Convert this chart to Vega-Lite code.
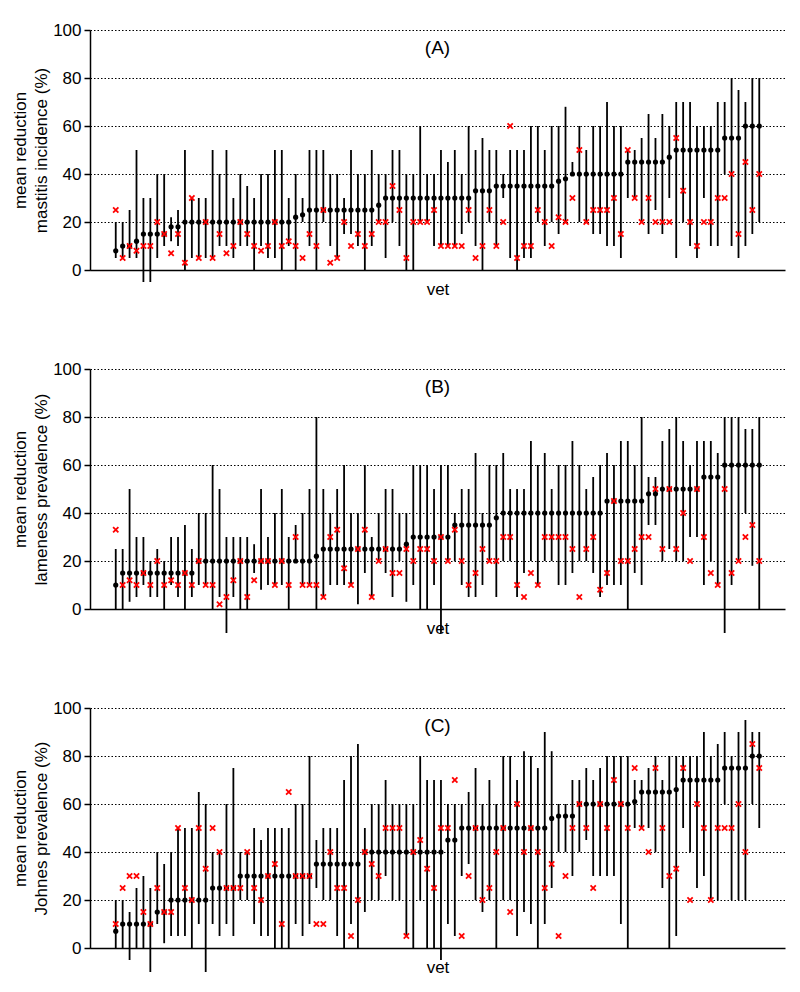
{
"$schema": "https://vega.github.io/schema/vega-lite/v6.json",
"background": "white",
"padding": {"left": 11, "top": 21, "right": 5, "bottom": 5},
"autosize": {"type": "pad"},
"spacing": 99,
"bounds": "flush",
"config": {
  "view": {"stroke": null},
  "font": "Liberation Sans",
  "axis": {"domainColor": "#000", "domainWidth": 1.5, "tickColor": "#000", "tickWidth": 1.5, "tickSize": 6,
    "labelFont": "Liberation Sans", "labelFontSize": 17, "labelColor": "#000", "labelPadding": 3,
    "titleFont": "Liberation Sans", "titleFontSize": 17, "titleFontWeight": "normal", "titleColor": "#000",
    "gridColor": "#000", "gridDash": [1.5, 2], "gridWidth": 1.2, "gridOpacity": 1},
  "axisY": {"titlePadding": 2, "titleLineHeight": 21},
  "axisX": {"titlePadding": 11}
},
"datasets": {
"A": [
{"vet":1,"mean":8,"lo":5,"hi":20,"est":25},{"vet":2,"mean":10,"lo":5,"hi":20,"est":5},{"vet":3,"mean":10,"lo":5,"hi":25,"est":10},{"vet":4,"mean":12,"lo":5,"hi":50,"est":8},{"vet":5,"mean":15,"lo":-5,"hi":30,"est":10},{"vet":6,"mean":15,"lo":-5,"hi":30,"est":10},{"vet":7,"mean":15,"lo":5,"hi":40,"est":20},{"vet":8,"mean":15,"lo":10,"hi":40,"est":15},{"vet":9,"mean":18,"lo":12,"hi":22,"est":7},{"vet":10,"mean":18,"lo":10,"hi":25,"est":15},
{"vet":11,"mean":20,"lo":0,"hi":50,"est":3},{"vet":12,"mean":20,"lo":5,"hi":30,"est":30},{"vet":13,"mean":20,"lo":5,"hi":30,"est":5},{"vet":14,"mean":20,"lo":5,"hi":30,"est":20},{"vet":15,"mean":20,"lo":5,"hi":50,"est":5},{"vet":16,"mean":20,"lo":10,"hi":40,"est":15},{"vet":17,"mean":20,"lo":10,"hi":50,"est":7},{"vet":18,"mean":20,"lo":5,"hi":30,"est":10},{"vet":19,"mean":20,"lo":10,"hi":40,"est":20},{"vet":20,"mean":20,"lo":10,"hi":35,"est":15},
{"vet":21,"mean":20,"lo":0,"hi":30,"est":10},{"vet":22,"mean":20,"lo":10,"hi":40,"est":8},{"vet":23,"mean":20,"lo":5,"hi":40,"est":10},{"vet":24,"mean":20,"lo":5,"hi":50,"est":20},{"vet":25,"mean":20,"lo":0,"hi":50,"est":10},{"vet":26,"mean":20,"lo":10,"hi":30,"est":12},{"vet":27,"mean":22,"lo":0,"hi":40,"est":10},{"vet":28,"mean":23,"lo":20,"hi":30,"est":5},{"vet":29,"mean":25,"lo":10,"hi":50,"est":15},{"vet":30,"mean":25,"lo":0,"hi":50,"est":10},
{"vet":31,"mean":25,"lo":20,"hi":50,"est":25},{"vet":32,"mean":25,"lo":10,"hi":40,"est":3},{"vet":33,"mean":25,"lo":5,"hi":40,"est":5},{"vet":34,"mean":25,"lo":15,"hi":30,"est":20},{"vet":35,"mean":25,"lo":15,"hi":50,"est":10},{"vet":36,"mean":25,"lo":10,"hi":40,"est":15},{"vet":37,"mean":25,"lo":0,"hi":40,"est":10},{"vet":38,"mean":25,"lo":10,"hi":50,"est":15},{"vet":39,"mean":27,"lo":20,"hi":40,"est":20},{"vet":40,"mean":30,"lo":5,"hi":40,"est":20},
{"vet":41,"mean":30,"lo":20,"hi":50,"est":35},{"vet":42,"mean":30,"lo":10,"hi":50,"est":25},{"vet":43,"mean":30,"lo":0,"hi":40,"est":5},{"vet":44,"mean":30,"lo":0,"hi":40,"est":20},{"vet":45,"mean":30,"lo":20,"hi":60,"est":20},{"vet":46,"mean":30,"lo":20,"hi":40,"est":20},{"vet":47,"mean":30,"lo":10,"hi":40,"est":25},{"vet":48,"mean":30,"lo":10,"hi":50,"est":10},{"vet":49,"mean":30,"lo":10,"hi":45,"est":10},{"vet":50,"mean":30,"lo":10,"hi":50,"est":10},
{"vet":51,"mean":30,"lo":15,"hi":40,"est":10},{"vet":52,"mean":30,"lo":20,"hi":60,"est":25},{"vet":53,"mean":33,"lo":10,"hi":50,"est":5},{"vet":54,"mean":33,"lo":0,"hi":55,"est":10},{"vet":55,"mean":33,"lo":20,"hi":50,"est":25},{"vet":56,"mean":35,"lo":10,"hi":50,"est":10},{"vet":57,"mean":35,"lo":30,"hi":40,"est":20},{"vet":58,"mean":35,"lo":5,"hi":50,"est":60},{"vet":59,"mean":35,"lo":0,"hi":50,"est":5},{"vet":60,"mean":35,"lo":5,"hi":50,"est":10},
{"vet":61,"mean":35,"lo":5,"hi":60,"est":10},{"vet":62,"mean":35,"lo":20,"hi":60,"est":25},{"vet":63,"mean":35,"lo":10,"hi":50,"est":20},{"vet":64,"mean":35,"lo":20,"hi":60,"est":10},{"vet":65,"mean":37,"lo":15,"hi":60,"est":22},{"vet":66,"mean":38,"lo":20,"hi":68,"est":20},{"vet":67,"mean":40,"lo":40,"hi":45,"est":30},{"vet":68,"mean":40,"lo":20,"hi":60,"est":50},{"vet":69,"mean":40,"lo":20,"hi":50,"est":20},{"vet":70,"mean":40,"lo":15,"hi":60,"est":25},
{"vet":71,"mean":40,"lo":15,"hi":60,"est":25},{"vet":72,"mean":40,"lo":10,"hi":70,"est":25},{"vet":73,"mean":40,"lo":10,"hi":60,"est":30},{"vet":74,"mean":40,"lo":5,"hi":60,"est":15},{"vet":75,"mean":45,"lo":30,"hi":50,"est":50},{"vet":76,"mean":45,"lo":30,"hi":50,"est":30},{"vet":77,"mean":45,"lo":20,"hi":55,"est":20},{"vet":78,"mean":45,"lo":15,"hi":65,"est":30},{"vet":79,"mean":45,"lo":25,"hi":55,"est":20},{"vet":80,"mean":45,"lo":15,"hi":65,"est":20},
{"vet":81,"mean":47,"lo":30,"hi":60,"est":20},{"vet":82,"mean":50,"lo":5,"hi":70,"est":55},{"vet":83,"mean":50,"lo":20,"hi":70,"est":33},{"vet":84,"mean":50,"lo":10,"hi":70,"est":20},{"vet":85,"mean":50,"lo":5,"hi":60,"est":10},{"vet":86,"mean":50,"lo":30,"hi":60,"est":20},{"vet":87,"mean":50,"lo":10,"hi":60,"est":20},{"vet":88,"mean":50,"lo":10,"hi":70,"est":30},{"vet":89,"mean":55,"lo":40,"hi":70,"est":30},{"vet":90,"mean":55,"lo":10,"hi":80,"est":40},
{"vet":91,"mean":55,"lo":5,"hi":75,"est":15},{"vet":92,"mean":60,"lo":10,"hi":70,"est":45},{"vet":93,"mean":60,"lo":15,"hi":80,"est":25},{"vet":94,"mean":60,"lo":20,"hi":80,"est":40}
],
"B": [
{"vet":1,"mean":10,"lo":0,"hi":25,"est":33},{"vet":2,"mean":15,"lo":0,"hi":25,"est":10},{"vet":3,"mean":15,"lo":3,"hi":50,"est":12},{"vet":4,"mean":15,"lo":5,"hi":30,"est":10},{"vet":5,"mean":15,"lo":10,"hi":30,"est":15},{"vet":6,"mean":15,"lo":5,"hi":20,"est":10},{"vet":7,"mean":15,"lo":5,"hi":25,"est":20},{"vet":8,"mean":15,"lo":0,"hi":20,"est":10},{"vet":9,"mean":15,"lo":10,"hi":30,"est":12},{"vet":10,"mean":15,"lo":5,"hi":30,"est":10},
{"vet":11,"mean":15,"lo":0,"hi":35,"est":15},{"vet":12,"mean":15,"lo":5,"hi":25,"est":10},{"vet":13,"mean":20,"lo":10,"hi":40,"est":20},{"vet":14,"mean":20,"lo":10,"hi":40,"est":10},{"vet":15,"mean":20,"lo":0,"hi":60,"est":10},{"vet":16,"mean":20,"lo":5,"hi":50,"est":2},{"vet":17,"mean":20,"lo":-10,"hi":30,"est":5},{"vet":18,"mean":20,"lo":5,"hi":30,"est":12},{"vet":19,"mean":20,"lo":0,"hi":30,"est":20},{"vet":20,"mean":20,"lo":0,"hi":30,"est":5},
{"vet":21,"mean":20,"lo":15,"hi":27,"est":12},{"vet":22,"mean":20,"lo":8,"hi":50,"est":20},{"vet":23,"mean":20,"lo":10,"hi":30,"est":20},{"vet":24,"mean":20,"lo":10,"hi":40,"est":10},{"vet":25,"mean":20,"lo":10,"hi":50,"est":20},{"vet":26,"mean":20,"lo":0,"hi":30,"est":10},{"vet":27,"mean":20,"lo":20,"hi":35,"est":30},{"vet":28,"mean":20,"lo":10,"hi":40,"est":10},{"vet":29,"mean":20,"lo":10,"hi":50,"est":10},{"vet":30,"mean":22,"lo":0,"hi":80,"est":10},
{"vet":31,"mean":25,"lo":5,"hi":50,"est":5},{"vet":32,"mean":25,"lo":10,"hi":40,"est":30},{"vet":33,"mean":25,"lo":10,"hi":50,"est":33},{"vet":34,"mean":25,"lo":10,"hi":60,"est":17},{"vet":35,"mean":25,"lo":10,"hi":40,"est":10},{"vet":36,"mean":25,"lo":2,"hi":40,"est":25},{"vet":37,"mean":25,"lo":15,"hi":60,"est":33},{"vet":38,"mean":25,"lo":5,"hi":30,"est":5},{"vet":39,"mean":25,"lo":20,"hi":40,"est":20},{"vet":40,"mean":25,"lo":15,"hi":50,"est":25},
{"vet":41,"mean":25,"lo":5,"hi":50,"est":15},{"vet":42,"mean":25,"lo":20,"hi":40,"est":15},{"vet":43,"mean":27,"lo":3,"hi":40,"est":25},{"vet":44,"mean":30,"lo":10,"hi":60,"est":20},{"vet":45,"mean":30,"lo":0,"hi":60,"est":25},{"vet":46,"mean":30,"lo":0,"hi":60,"est":25},{"vet":47,"mean":30,"lo":10,"hi":50,"est":20},{"vet":48,"mean":30,"lo":-10,"hi":60,"est":30},{"vet":49,"mean":30,"lo":20,"hi":60,"est":20},{"vet":50,"mean":35,"lo":20,"hi":40,"est":33},
{"vet":51,"mean":35,"lo":10,"hi":50,"est":20},{"vet":52,"mean":35,"lo":5,"hi":50,"est":10},{"vet":53,"mean":35,"lo":5,"hi":65,"est":15},{"vet":54,"mean":35,"lo":10,"hi":40,"est":25},{"vet":55,"mean":35,"lo":20,"hi":60,"est":20},{"vet":56,"mean":38,"lo":5,"hi":60,"est":20},{"vet":57,"mean":40,"lo":20,"hi":65,"est":30},{"vet":58,"mean":40,"lo":20,"hi":50,"est":30},{"vet":59,"mean":40,"lo":5,"hi":50,"est":10},{"vet":60,"mean":40,"lo":15,"hi":50,"est":5},
{"vet":61,"mean":40,"lo":20,"hi":70,"est":15},{"vet":62,"mean":40,"lo":10,"hi":60,"est":10},{"vet":63,"mean":40,"lo":20,"hi":65,"est":30},{"vet":64,"mean":40,"lo":20,"hi":50,"est":30},{"vet":65,"mean":40,"lo":10,"hi":60,"est":30},{"vet":66,"mean":40,"lo":10,"hi":60,"est":30},{"vet":67,"mean":40,"lo":15,"hi":70,"est":25},{"vet":68,"mean":40,"lo":20,"hi":60,"est":5},{"vet":69,"mean":40,"lo":20,"hi":50,"est":25},{"vet":70,"mean":40,"lo":15,"hi":55,"est":30},
{"vet":71,"mean":40,"lo":5,"hi":60,"est":8},{"vet":72,"mean":45,"lo":10,"hi":65,"est":15},{"vet":73,"mean":45,"lo":10,"hi":60,"est":45},{"vet":74,"mean":45,"lo":10,"hi":70,"est":20},{"vet":75,"mean":45,"lo":0,"hi":70,"est":20},{"vet":76,"mean":45,"lo":15,"hi":60,"est":25},{"vet":77,"mean":45,"lo":10,"hi":80,"est":30},{"vet":78,"mean":48,"lo":35,"hi":55,"est":30},{"vet":79,"mean":48,"lo":35,"hi":55,"est":50},{"vet":80,"mean":50,"lo":20,"hi":70,"est":25},
{"vet":81,"mean":50,"lo":25,"hi":75,"est":50},{"vet":82,"mean":50,"lo":20,"hi":80,"est":25},{"vet":83,"mean":50,"lo":20,"hi":70,"est":40},{"vet":84,"mean":50,"lo":30,"hi":60,"est":20},{"vet":85,"mean":50,"lo":30,"hi":70,"est":50},{"vet":86,"mean":55,"lo":10,"hi":70,"est":30},{"vet":87,"mean":55,"lo":20,"hi":70,"est":15},{"vet":88,"mean":55,"lo":10,"hi":65,"est":10},{"vet":89,"mean":60,"lo":-10,"hi":80,"est":50},{"vet":90,"mean":60,"lo":10,"hi":80,"est":15},
{"vet":91,"mean":60,"lo":20,"hi":80,"est":20},{"vet":92,"mean":60,"lo":40,"hi":75,"est":30},{"vet":93,"mean":60,"lo":18,"hi":75,"est":35},{"vet":94,"mean":60,"lo":0,"hi":80,"est":20}
],
"C": [
{"vet":1,"mean":7,"lo":0,"hi":20,"est":10},{"vet":2,"mean":10,"lo":0,"hi":20,"est":25},{"vet":3,"mean":10,"lo":-5,"hi":15,"est":30},{"vet":4,"mean":10,"lo":0,"hi":25,"est":30},{"vet":5,"mean":10,"lo":0,"hi":30,"est":15},{"vet":6,"mean":10,"lo":-10,"hi":25,"est":10},{"vet":7,"mean":15,"lo":10,"hi":40,"est":25},{"vet":8,"mean":15,"lo":2,"hi":35,"est":15},{"vet":9,"mean":20,"lo":5,"hi":40,"est":15},{"vet":10,"mean":20,"lo":5,"hi":50,"est":50},
{"vet":11,"mean":20,"lo":5,"hi":50,"est":25},{"vet":12,"mean":20,"lo":0,"hi":50,"est":20},{"vet":13,"mean":20,"lo":10,"hi":65,"est":50},{"vet":14,"mean":20,"lo":-10,"hi":60,"est":33},{"vet":15,"mean":25,"lo":10,"hi":40,"est":50},{"vet":16,"mean":25,"lo":5,"hi":40,"est":40},{"vet":17,"mean":25,"lo":10,"hi":60,"est":25},{"vet":18,"mean":25,"lo":5,"hi":75,"est":25},{"vet":19,"mean":30,"lo":20,"hi":40,"est":25},{"vet":20,"mean":30,"lo":20,"hi":40,"est":40},
{"vet":21,"mean":30,"lo":10,"hi":50,"est":25},{"vet":22,"mean":30,"lo":5,"hi":45,"est":20},{"vet":23,"mean":30,"lo":5,"hi":50,"est":30},{"vet":24,"mean":30,"lo":0,"hi":50,"est":35},{"vet":25,"mean":30,"lo":0,"hi":50,"est":10},{"vet":26,"mean":30,"lo":0,"hi":50,"est":65},{"vet":27,"mean":30,"lo":10,"hi":60,"est":30},{"vet":28,"mean":30,"lo":5,"hi":60,"est":30},{"vet":29,"mean":30,"lo":10,"hi":80,"est":30},{"vet":30,"mean":35,"lo":25,"hi":45,"est":10},
{"vet":31,"mean":35,"lo":20,"hi":50,"est":10},{"vet":32,"mean":35,"lo":20,"hi":50,"est":40},{"vet":33,"mean":35,"lo":5,"hi":50,"est":25},{"vet":34,"mean":35,"lo":0,"hi":70,"est":25},{"vet":35,"mean":35,"lo":10,"hi":80,"est":5},{"vet":36,"mean":35,"lo":0,"hi":85,"est":20},{"vet":37,"mean":40,"lo":15,"hi":50,"est":40},{"vet":38,"mean":40,"lo":20,"hi":60,"est":35},{"vet":39,"mean":40,"lo":20,"hi":60,"est":30},{"vet":40,"mean":40,"lo":30,"hi":70,"est":50},
{"vet":41,"mean":40,"lo":20,"hi":60,"est":50},{"vet":42,"mean":40,"lo":20,"hi":60,"est":50},{"vet":43,"mean":40,"lo":5,"hi":60,"est":5},{"vet":44,"mean":40,"lo":0,"hi":60,"est":40},{"vet":45,"mean":40,"lo":20,"hi":80,"est":45},{"vet":46,"mean":40,"lo":0,"hi":70,"est":33},{"vet":47,"mean":40,"lo":0,"hi":70,"est":25},{"vet":48,"mean":40,"lo":-5,"hi":70,"est":50},{"vet":49,"mean":45,"lo":10,"hi":60,"est":50},{"vet":50,"mean":45,"lo":5,"hi":60,"est":70},
{"vet":51,"mean":50,"lo":30,"hi":60,"est":5},{"vet":52,"mean":50,"lo":35,"hi":65,"est":30},{"vet":53,"mean":50,"lo":20,"hi":75,"est":50},{"vet":54,"mean":50,"lo":15,"hi":60,"est":20},{"vet":55,"mean":50,"lo":20,"hi":70,"est":25},{"vet":56,"mean":50,"lo":0,"hi":60,"est":40},{"vet":57,"mean":50,"lo":20,"hi":80,"est":50},{"vet":58,"mean":50,"lo":20,"hi":80,"est":15},{"vet":59,"mean":50,"lo":5,"hi":70,"est":60},{"vet":60,"mean":50,"lo":15,"hi":82,"est":40},
{"vet":61,"mean":50,"lo":10,"hi":80,"est":50},{"vet":62,"mean":50,"lo":0,"hi":75,"est":40},{"vet":63,"mean":50,"lo":10,"hi":90,"est":25},{"vet":64,"mean":54,"lo":25,"hi":82,"est":35},{"vet":65,"mean":55,"lo":40,"hi":60,"est":5},{"vet":66,"mean":55,"lo":40,"hi":60,"est":30},{"vet":67,"mean":55,"lo":30,"hi":70,"est":50},{"vet":68,"mean":60,"lo":40,"hi":70,"est":60},{"vet":69,"mean":60,"lo":45,"hi":75,"est":50},{"vet":70,"mean":60,"lo":30,"hi":70,"est":25},
{"vet":71,"mean":60,"lo":30,"hi":75,"est":60},{"vet":72,"mean":60,"lo":30,"hi":80,"est":50},{"vet":73,"mean":60,"lo":30,"hi":80,"est":70},{"vet":74,"mean":60,"lo":10,"hi":80,"est":60},{"vet":75,"mean":60,"lo":0,"hi":80,"est":50},{"vet":76,"mean":61,"lo":50,"hi":70,"est":75},{"vet":77,"mean":65,"lo":50,"hi":70,"est":50},{"vet":78,"mean":65,"lo":50,"hi":75,"est":40},{"vet":79,"mean":65,"lo":40,"hi":80,"est":75},{"vet":80,"mean":65,"lo":25,"hi":70,"est":50},
{"vet":81,"mean":65,"lo":0,"hi":80,"est":30},{"vet":82,"mean":66,"lo":5,"hi":80,"est":33},{"vet":83,"mean":70,"lo":50,"hi":80,"est":75},{"vet":84,"mean":70,"lo":40,"hi":80,"est":20},{"vet":85,"mean":70,"lo":25,"hi":80,"est":60},{"vet":86,"mean":70,"lo":30,"hi":90,"est":50},{"vet":87,"mean":70,"lo":20,"hi":80,"est":20},{"vet":88,"mean":70,"lo":20,"hi":85,"est":50},{"vet":89,"mean":75,"lo":60,"hi":90,"est":50},{"vet":90,"mean":75,"lo":20,"hi":80,"est":50},
{"vet":91,"mean":75,"lo":20,"hi":90,"est":60},{"vet":92,"mean":75,"lo":20,"hi":95,"est":40},{"vet":93,"mean":80,"lo":60,"hi":90,"est":85},{"vet":94,"mean":80,"lo":50,"hi":90,"est":75}
],
"LA": [{"label": "(A)", "px": 47.5, "py": 92.5}],
"LB": [{"label": "(B)", "px": 47.5, "py": 92.5}],
"LC": [{"label": "(C)", "px": 47.5, "py": 92.5}]
},
"vconcat": [
{
 "width": 695, "height": 240,
 "layer": [
  {"data": {"name": "A"},
   "mark": {"type": "rule", "color": "#000", "strokeWidth": 1.8},
   "encoding": {
     "x": {"field": "vet", "type": "quantitative", "scale": {"domain": [-2.72, 97.72], "nice": false, "zero": false}, "axis": {"title": "vet", "labels": false, "ticks": false, "grid": false}},
     "y": {"field": "lo", "type": "quantitative", "scale": {"domain": [0, 100], "nice": false}, "axis": {"values": [0, 20, 40, 60, 80, 100], "grid": true}, "title": ["mean reduction", "mastitis incidence (%)"]}, "y2": {"field": "hi"}}},
  {"data": {"name": "A"},
   "mark": {"type": "point", "shape": "circle", "filled": true, "color": "#000", "size": 27, "opacity": 1},
   "encoding": {"x": {"field": "vet", "type": "quantitative", "title": "vet"}, "y": {"field": "mean", "type": "quantitative", "title": ["mean reduction", "mastitis incidence (%)"]}}},
  {"data": {"name": "A"},
   "mark": {"type": "point", "shape": "M-1,-1L1,1M-1,1L1,-1", "filled": false, "color": "#ff0000", "strokeWidth": 1.8, "size": 28, "opacity": 1},
   "encoding": {"x": {"field": "vet", "type": "quantitative", "title": "vet"}, "y": {"field": "est", "type": "quantitative", "title": ["mean reduction", "mastitis incidence (%)"]}}},
  {"data": {"name": "LA"},
   "mark": {"type": "text", "fontSize": 19, "font": "Liberation Sans", "color": "#000"},
   "encoding": {"text": {"field": "label", "type": "nominal"}, "x": {"field": "px", "type": "quantitative", "title": "vet"}, "y": {"field": "py", "type": "quantitative", "title": ["mean reduction", "mastitis incidence (%)"]}}}
 ]
},
{
 "width": 695, "height": 240,
 "layer": [
  {"data": {"name": "B"},
   "mark": {"type": "rule", "color": "#000", "strokeWidth": 1.8},
   "encoding": {
     "x": {"field": "vet", "type": "quantitative", "scale": {"domain": [-2.72, 97.72], "nice": false, "zero": false}, "axis": {"title": "vet", "labels": false, "ticks": false, "grid": false}},
     "y": {"field": "lo", "type": "quantitative", "scale": {"domain": [0, 100], "nice": false}, "axis": {"values": [0, 20, 40, 60, 80, 100], "grid": true}, "title": ["mean reduction", "lameness prevalence (%)"]}, "y2": {"field": "hi"}}},
  {"data": {"name": "B"},
   "mark": {"type": "point", "shape": "circle", "filled": true, "color": "#000", "size": 27, "opacity": 1},
   "encoding": {"x": {"field": "vet", "type": "quantitative", "title": "vet"}, "y": {"field": "mean", "type": "quantitative", "title": ["mean reduction", "lameness prevalence (%)"]}}},
  {"data": {"name": "B"},
   "mark": {"type": "point", "shape": "M-1,-1L1,1M-1,1L1,-1", "filled": false, "color": "#ff0000", "strokeWidth": 1.8, "size": 28, "opacity": 1},
   "encoding": {"x": {"field": "vet", "type": "quantitative", "title": "vet"}, "y": {"field": "est", "type": "quantitative", "title": ["mean reduction", "lameness prevalence (%)"]}}},
  {"data": {"name": "LB"},
   "mark": {"type": "text", "fontSize": 19, "font": "Liberation Sans", "color": "#000"},
   "encoding": {"text": {"field": "label", "type": "nominal"}, "x": {"field": "px", "type": "quantitative", "title": "vet"}, "y": {"field": "py", "type": "quantitative", "title": ["mean reduction", "lameness prevalence (%)"]}}}
 ]
},
{
 "width": 695, "height": 240,
 "layer": [
  {"data": {"name": "C"},
   "mark": {"type": "rule", "color": "#000", "strokeWidth": 1.8},
   "encoding": {
     "x": {"field": "vet", "type": "quantitative", "scale": {"domain": [-2.72, 97.72], "nice": false, "zero": false}, "axis": {"title": "vet", "labels": false, "ticks": false, "grid": false}},
     "y": {"field": "lo", "type": "quantitative", "scale": {"domain": [0, 100], "nice": false}, "axis": {"values": [0, 20, 40, 60, 80, 100], "grid": true}, "title": ["mean reduction", "Johnes prevalence (%)"]}, "y2": {"field": "hi"}}},
  {"data": {"name": "C"},
   "mark": {"type": "point", "shape": "circle", "filled": true, "color": "#000", "size": 27, "opacity": 1},
   "encoding": {"x": {"field": "vet", "type": "quantitative", "title": "vet"}, "y": {"field": "mean", "type": "quantitative", "title": ["mean reduction", "Johnes prevalence (%)"]}}},
  {"data": {"name": "C"},
   "mark": {"type": "point", "shape": "M-1,-1L1,1M-1,1L1,-1", "filled": false, "color": "#ff0000", "strokeWidth": 1.8, "size": 28, "opacity": 1},
   "encoding": {"x": {"field": "vet", "type": "quantitative", "title": "vet"}, "y": {"field": "est", "type": "quantitative", "title": ["mean reduction", "Johnes prevalence (%)"]}}},
  {"data": {"name": "LC"},
   "mark": {"type": "text", "fontSize": 19, "font": "Liberation Sans", "color": "#000"},
   "encoding": {"text": {"field": "label", "type": "nominal"}, "x": {"field": "px", "type": "quantitative", "title": "vet"}, "y": {"field": "py", "type": "quantitative", "title": ["mean reduction", "Johnes prevalence (%)"]}}}
 ]
}
]
}
